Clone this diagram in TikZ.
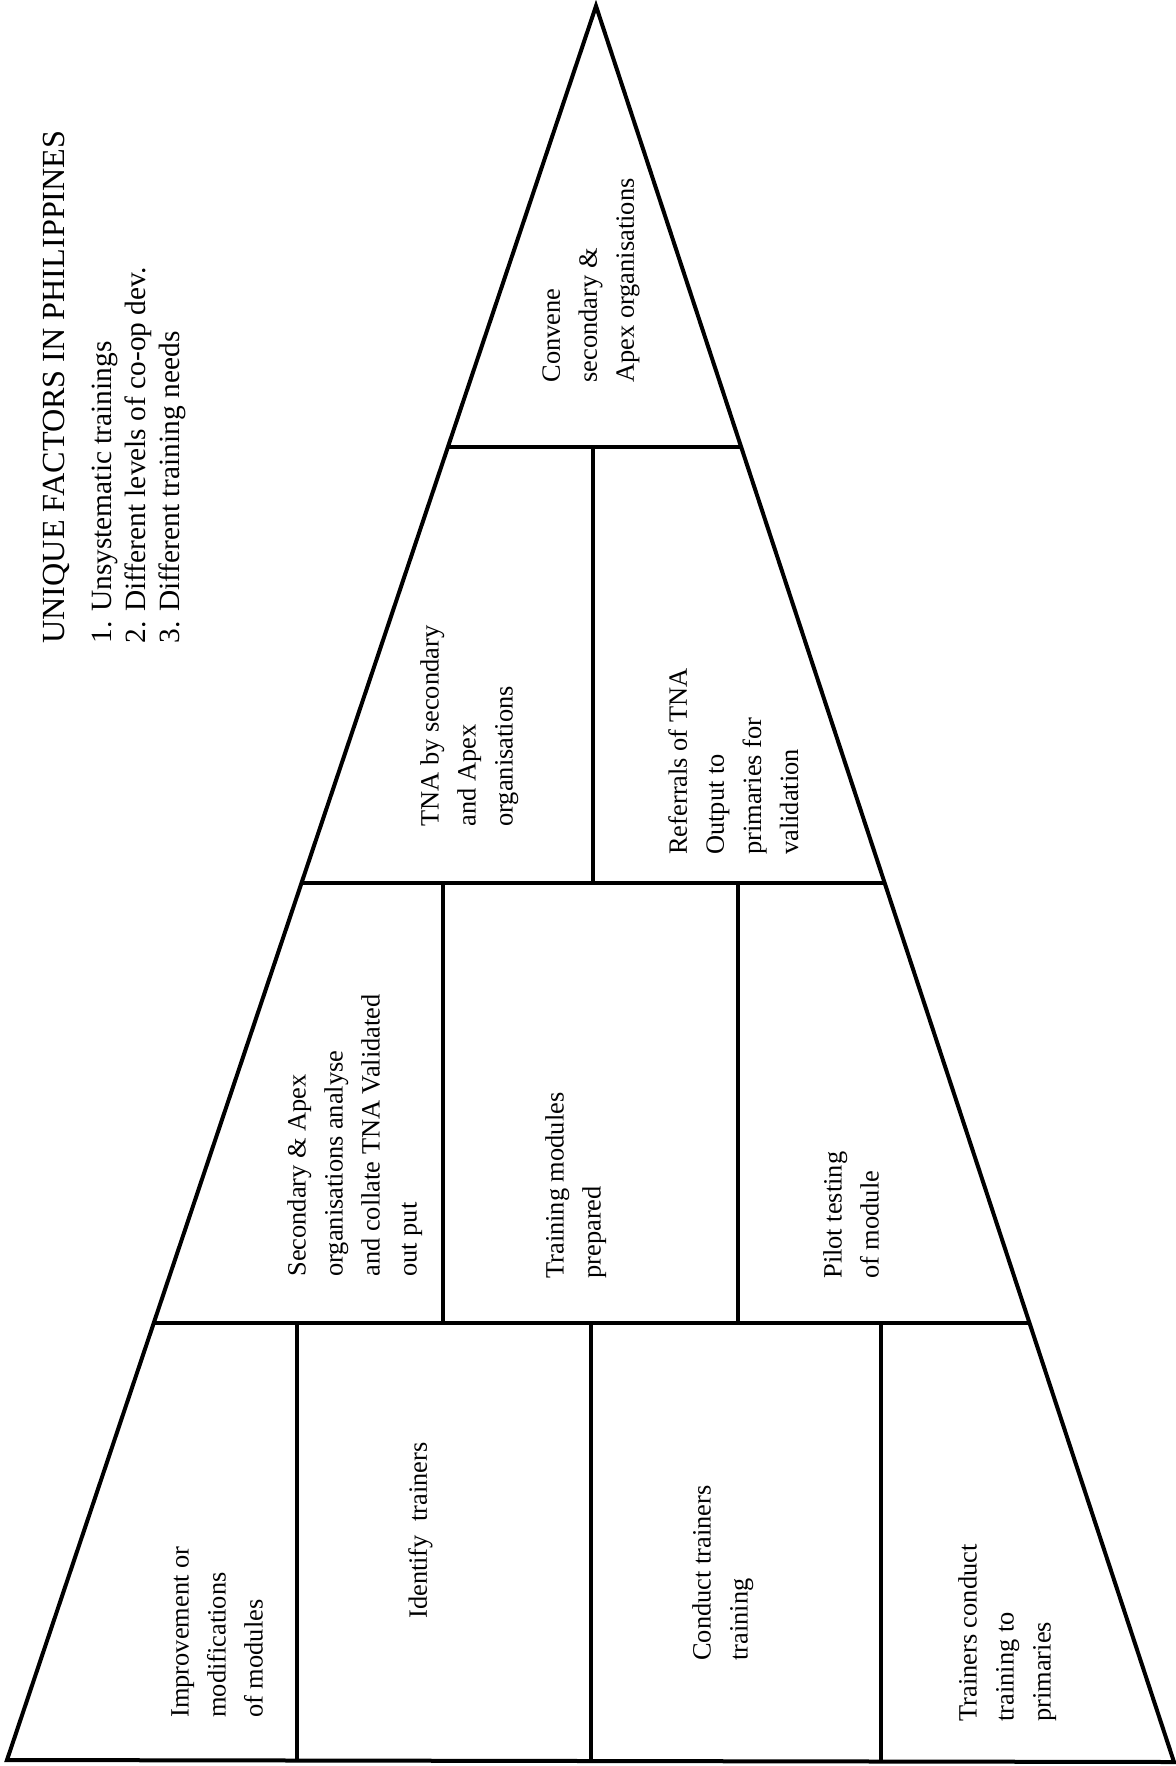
\documentclass[tikz,border=0pt]{standalone}
\usepackage{fontspec}
\setmainfont{Liberation Serif}
\begin{document}
\begin{tikzpicture}[x=0.5pt,y=-0.5pt,
  outline/.style={line width=2pt, line join=miter, line cap=round},
  divider/.style={line width=1.6pt},
  boxlabel/.style={rotate=90, anchor=north west, inner sep=0pt, align=left,
    font=\fontsize{13.2}{18.5}\selectfont},
  headline/.style={rotate=90, anchor=north west, inner sep=0pt,
    font=\fontsize{16.1}{19}\selectfont},
  factorlist/.style={rotate=90, anchor=north west, inner sep=0pt, align=left,
    font=\fontsize{14.7}{17}\selectfont}]
\useasboundingbox (0,0) rectangle (1176,1766);

% corners of the pyramid
\coordinate (apex) at (596,6);
\coordinate (bl) at (7,1760);
\coordinate (br) at (1174,1762);

% points where the tier lines meet the slanted sides
\coordinate (l1) at (448,447);   \coordinate (r1) at (741,447);
\coordinate (l2) at (301,883);   \coordinate (r2) at (885,883);
\coordinate (l3) at (154,1323);  \coordinate (r3) at (1030,1323);

% outline
\draw[outline] (apex) -- (bl) -- (br) -- cycle;

% tier lines
\draw[divider] (l1) -- (r1);
\draw[divider] (l2) -- (r2);
\draw[divider] (l3) -- (r3);

% compartments of each tier
\draw[divider] (593,447) -- (593,883);
\draw[divider] (443,883) -- (443,1323);
\draw[divider] (738,883) -- (738,1323);
\draw[divider] (297,1323) -- (297,1761);
\draw[divider] (591,1323) -- (591,1761);
\draw[divider] (881,1323) -- (881,1762);

% heading and list of factors
\node[headline] (head) at (43,644) {UNIQUE FACTORS IN PHILIPPINES};
\node[factorlist] (factors) at (92,644) {1. Unsystematic trainings\\
  2. Different levels of co-op dev.\\ 3. Different training needs};

% tier 1
\node[boxlabel] (convene) at (542,383) {Convene\\ secondary \&\\ Apex organisations};

% tier 2
\node[boxlabel] (tna) at (420,827) {TNA by secondary\\ and Apex\\ organisations};
\node[boxlabel] (referral) at (668,855) {Referrals of TNA\\ Output to\\ primaries for\\ validation};

% tier 3
\node[boxlabel] (collate) at (287,1277) {Secondary \& Apex\\ organisations analyse\\ and collate TNA Validated\\ out put};
\node[boxlabel] (modules) at (545,1279) {Training modules\\ prepared};
\node[boxlabel] (pilot) at (823,1279) {Pilot testing\\ of module};

% tier 4
\node[boxlabel] (improve) at (171,1718) {Improvement or\\ modifications\\ of modules};
\node[boxlabel] (identify) at (408,1619) {Identify\ \ trainers};
\node[boxlabel] (conduct) at (692,1661) {Conduct trainers\\ training};
\node[boxlabel] (primaries) at (958,1722) {Trainers conduct\\ training to\\ primaries};
\end{tikzpicture}
\end{document}
